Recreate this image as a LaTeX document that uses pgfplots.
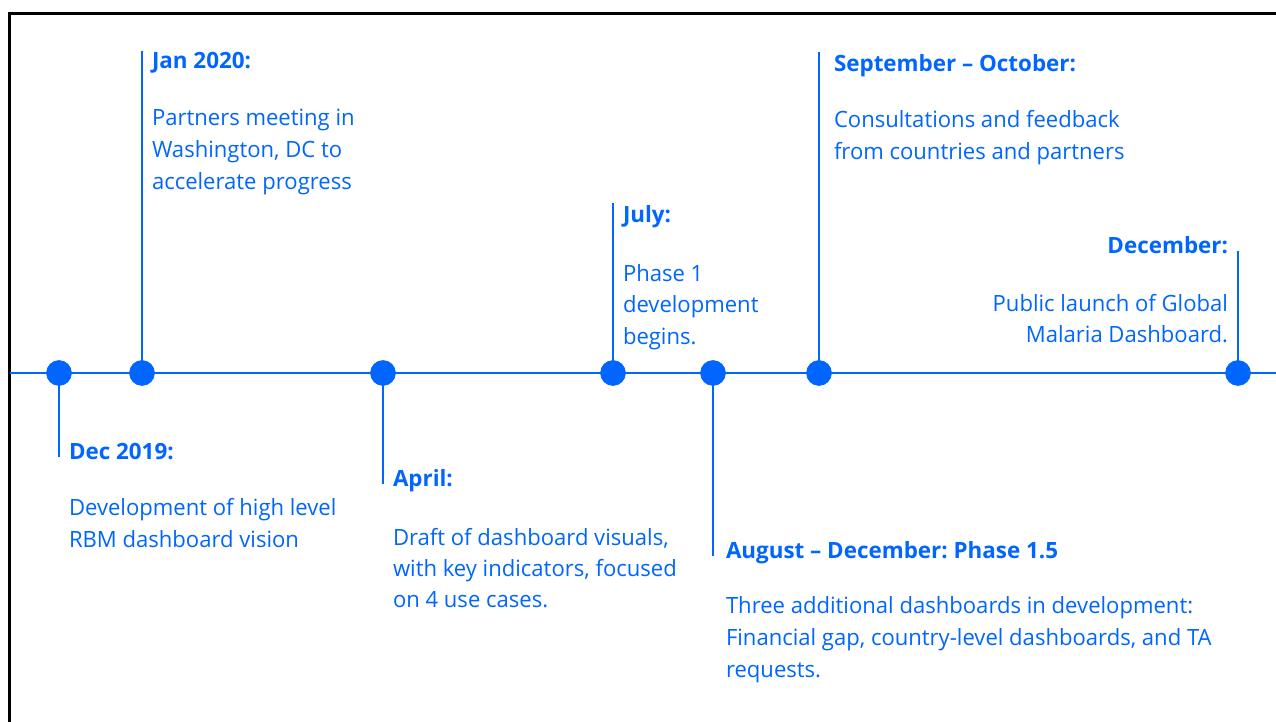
\documentclass[border=0pt]{standalone}
\usepackage{fontspec}
\setmainfont{Open Sans}[FakeStretch=0.985, BoldFeatures={FakeStretch=1.0}]
\usepackage{pgfplots}
\pgfplotsset{compat=1.18}
\definecolor{tl}{RGB}{0,102,255}
\frenchspacing
\tikzset{lbl/.style={font=\fontsize{11.2}{16}\selectfont\frenchspacing, text=tl, inner sep=0pt, outer sep=0pt}}
\begin{document}
\begin{tikzpicture}
\begin{axis}[
  width=638pt, height=361pt, scale only axis, hide axis,
  xmin=0, xmax=1276, ymin=0, ymax=722, y dir=reverse, clip=false,
]
% frame
\addplot[black, line width=1.5pt] coordinates {(9.5,722) (9.5,13.5) (1276,13.5)};
% timeline
\addplot[tl, line width=1pt] coordinates {(9.5,373) (1276,373)};
% stems
\addplot[tl, line width=1.4pt] coordinates {(59,373) (59,457)};
\addplot[tl, line width=1.4pt] coordinates {(142,373) (142,51)};
\addplot[tl, line width=1.4pt] coordinates {(383,373) (383,484)};
\addplot[tl, line width=1.4pt] coordinates {(613,373) (613,203)};
\addplot[tl, line width=1.4pt] coordinates {(713,373) (713,556)};
\addplot[tl, line width=1.4pt] coordinates {(819,373) (819,52)};
\addplot[tl, line width=1.4pt] coordinates {(1238,373) (1238,251)};
% dots
\addplot[only marks, mark=*, mark size=6.2pt, tl, mark options={fill=tl, draw=tl}]
  coordinates {(59,373) (142,373) (383,373) (613,373) (713,373) (819,373) (1238,373)};
% texts
\node[lbl, anchor=base west] at (axis cs:69,459) {\bfseries Dec 2019:};
\node[lbl, anchor=base west] at (axis cs:69,515) {Development of high level};
\node[lbl, anchor=base west] at (axis cs:69,547) {RBM dashboard vision};

\node[lbl, anchor=base west] at (axis cs:152,69) {\bfseries Jan 2020:};
\node[lbl, anchor=base west] at (axis cs:152,126) {Partners meeting in};
\node[lbl, anchor=base west] at (axis cs:152,158) {Washington, DC to};
\node[lbl, anchor=base west] at (axis cs:152,190) {accelerate progress};

\node[lbl, anchor=base west] at (axis cs:393,486) {\bfseries April:};
\node[lbl, anchor=base west] at (axis cs:393,545) {Draft of dashboard visuals,};
\node[lbl, anchor=base west] at (axis cs:393,576) {with key indicators, focused};
\node[lbl, anchor=base west] at (axis cs:393,607) {on 4 use cases.};

\node[lbl, anchor=base west] at (axis cs:623,223) {\bfseries July:};
\node[lbl, anchor=base west] at (axis cs:623,281) {Phase 1};
\node[lbl, anchor=base west] at (axis cs:623,313) {development};
\node[lbl, anchor=base west] at (axis cs:623,344) {begins.};

\node[lbl, anchor=base west] at (axis cs:726,558) {\bfseries August -- December: Phase 1.5};
\node[lbl, anchor=base west] at (axis cs:726,613) {Three additional dashboards in development:};
\node[lbl, anchor=base west] at (axis cs:726,645) {Financial gap, country-level dashboards, and TA};
\node[lbl, anchor=base west] at (axis cs:726,677) {requests.};

\node[lbl, anchor=base west] at (axis cs:834,72) {\bfseries September -- October:};
\node[lbl, anchor=base west] at (axis cs:834,128) {Consultations and feedback};
\node[lbl, anchor=base west] at (axis cs:834,160) {from countries and partners};

\node[lbl, anchor=base east] at (axis cs:1228,254) {\bfseries December:};
\node[lbl, anchor=base east] at (axis cs:1228,311) {Public launch of Global};
\node[lbl, anchor=base east] at (axis cs:1228,343) {Malaria Dashboard.};
\end{axis}
\pgfresetboundingbox
\path (0,0) rectangle (638pt,361pt);
\end{tikzpicture}
\end{document}
